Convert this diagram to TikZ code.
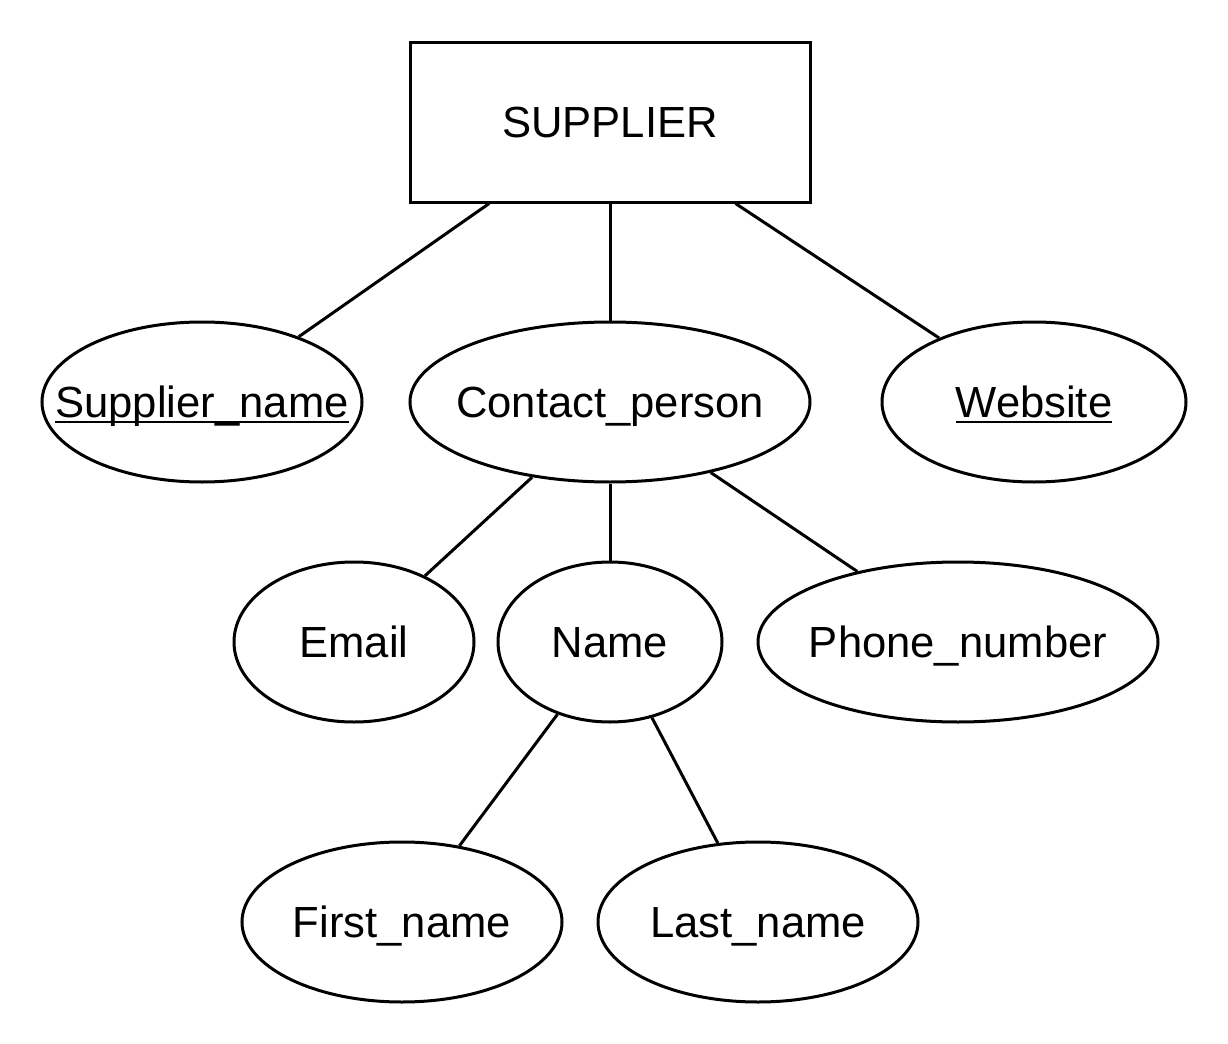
\documentclass[tikz,border=0pt]{standalone}
\usepackage{fontspec}
\setmainfont{Liberation Sans}
\usetikzlibrary{shapes.geometric}

\newcommand\ertext[1]{\makebox[0pt]{#1}}
\newcommand\erkey[1]{\setbox0\hbox{#1}\rlap{\rule[-0.13em]{\wd0}{0.06em}}\box0}

\begin{document}
\begin{tikzpicture}[
  x=0.5pt,
  y=-0.5pt,
  line width=1.5pt,
  font=\fontsize{21.8pt}{26pt}\selectfont,
  text height=15.6pt,
  text depth=0pt,
  entity/.style={
    draw,
    rectangle,
    minimum width=200pt,
    minimum height=80pt,
    inner sep=0pt
  },
  attr/.style={
    draw,
    ellipse,
    minimum height=80pt,
    inner sep=0pt
  }
]
  \useasboundingbox (0,0) rectangle (1228,1044);

  \node[entity] (supplier) at (610,122) {SUPPLIER};

  \node[attr,minimum width=160pt] (suppliername) at (202,402)
    {\ertext{\erkey{Supplier\_name}}};
  \node[attr,minimum width=200pt] (contact) at (610,402)
    {\ertext{Contact\_person}};
  \node[attr,minimum width=152pt] (website) at (1034,402)
    {\ertext{\erkey{Website}}};

  \node[attr,minimum width=120pt] (email) at (354,642) {\ertext{Email}};
  \node[attr,minimum width=112pt] (name) at (610,642) {\ertext{Name}};
  \node[attr,minimum width=200pt] (phone) at (958,642)
    {\ertext{Phone\_number}};

  \node[attr,minimum width=160pt] (firstname) at (402,922)
    {\ertext{First\_name}};
  \node[attr,minimum width=160pt] (lastname) at (758,922)
    {\ertext{Last\_name}};

  \draw (supplier.-146.3) -- (suppliername.34.5);
  \draw (supplier.south) -- (contact.north);
  \draw (supplier.-33.3) -- (website.146.3);
  \draw (contact.-136.5) -- (email.43.3);
  \draw (contact.south) -- (name.north);
  \draw (contact.-35.8) -- (phone.145.5);
  \draw (name.-126.9) -- (firstname.53.6);
  \draw (name.-61.6) -- (lastname.117.7);
\end{tikzpicture}
\end{document}
